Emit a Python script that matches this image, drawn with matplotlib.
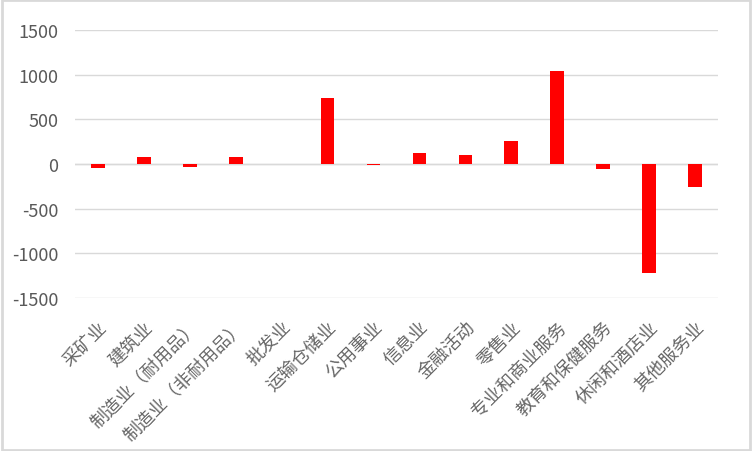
import matplotlib
matplotlib.use("Agg")
import matplotlib.pyplot as plt

plt.rcParams['font.family'] = ['Noto Sans CJK SC', 'DejaVu Sans']

categories = ["采矿业", "建筑业", "制造业（耐用品）", "制造业（非耐用品）", "批发业",
              "运输仓储业", "公用事业", "信息业", "金融活动", "零售业",
              "专业和商业服务", "教育和保健服务", "休闲和酒店业", "其他服务业"]
values = [-50, 80, -30, 80, 0, 740, -15, 123, 100, 257, 1041, -55, -1220, -255]
yticks = [-1500, -1000, -500, 0, 500, 1000, 1500]

fig = plt.figure(figsize=(7.52, 4.52), dpi=100)
ax = fig.add_axes([75 / 752, 1 - 299 / 452, (718 - 75) / 752, (299 - 31) / 452])

x = list(range(len(categories)))
ax.bar(x, values, width=0.3, color="#ff0000", zorder=3)

ax.set_xlim(-0.5, len(categories) - 0.5)
ax.set_ylim(-1500, 1500)
ax.set_yticks(yticks)
ax.set_yticklabels([str(v) for v in yticks], fontsize=13, color="#595959")
ax.grid(axis="y", color="#d9d9d9", lw=1, zorder=0)
ax.axhline(0, color="#d9d9d9", lw=1, zorder=1)
for s in ax.spines.values():
    s.set_visible(False)
ax.tick_params(length=0)
ax.tick_params(axis="y", pad=12)

ax.set_xticks(x)
ax.set_xticklabels(categories, rotation=45, ha="right", va="top",
                   rotation_mode="anchor", fontsize=13, fontweight="light",
                   color="#666666")
ax.tick_params(axis="x", pad=14)

# outer frame
fig.patches.append(plt.Rectangle((0.002, 0.003), 0.996, 0.994, transform=fig.transFigure,
                                 fill=False, edgecolor="#d9d9d9", lw=2))

fig.savefig("out.png", dpi=100)
